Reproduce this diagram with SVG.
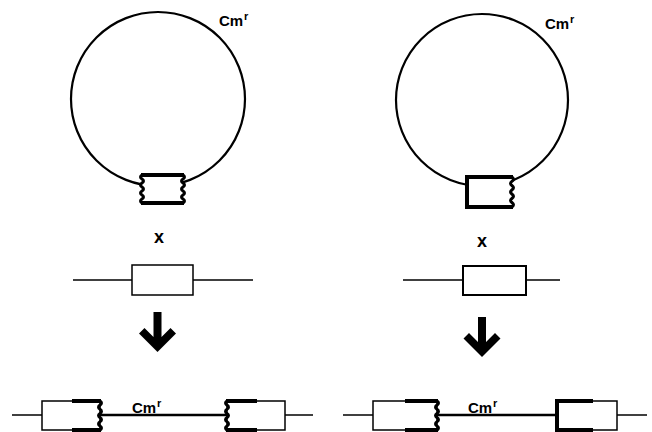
<svg xmlns="http://www.w3.org/2000/svg" width="652" height="432" viewBox="0 0 652 432">
<style>
.bg{fill:#fff}
.thin{fill:none;stroke:#000;stroke-width:1.5}
.circ{fill:none;stroke:#000;stroke-width:2.2}
.thick{fill:none;stroke:#000;stroke-width:4}
.mid{fill:none;stroke:#000;stroke-width:2.6}
.wavy{fill:none;stroke:#000;stroke-width:3;stroke-linejoin:round}
.box{fill:#fff;stroke:#000;stroke-width:1.5}
.lbl{font-family:"Liberation Sans",Arial,sans-serif;font-weight:bold;font-size:15px;fill:#000}
.xl{font-family:"Liberation Sans",Arial,sans-serif;font-weight:bold;font-size:18px;fill:#000}
.sup{font-family:"Liberation Sans",Arial,sans-serif;font-weight:bold;font-size:11px;fill:#000}
.arrow{fill:#000;stroke:none}
</style>
<defs>
<path id="wave" d="M0,0 q3,2 0,4 q-3,2 0,4 q3,2 0,4 q-3,2 0,4 q3,2 0,4 q-3,2 0,4 q3,2 0,4"/>
</defs>
<rect class="bg" x="0" y="0" width="652" height="432"/>

<g id="plasmid-left">
<circle class="circ" cx="158" cy="99" r="87"/>
<rect x="142" y="175" width="41" height="28" fill="#fff" stroke="none"/>
<line class="thick" x1="141" y1="175" x2="184" y2="175"/>
<line class="thick" x1="141" y1="203" x2="184" y2="203"/>
<use href="#wave" transform="translate(142,175) scale(-1,1)" style="fill:none;stroke:#000;stroke-width:3"/>
<use href="#wave" transform="translate(183,175)" style="fill:none;stroke:#000;stroke-width:3"/>
<text class="lbl" x="219" y="26">Cm</text><text class="sup" x="244" y="20">r</text>
</g>

<g id="plasmid-right">
<circle class="circ" cx="482" cy="100" r="86"/>
<rect x="467" y="177" width="45" height="30" fill="#fff" stroke="none"/>
<line class="thick" x1="467" y1="175" x2="467" y2="209"/>
<line class="thick" x1="465" y1="177" x2="513" y2="177"/>
<line class="thick" x1="465" y1="207" x2="513" y2="207"/>
<use href="#wave" transform="translate(512,177) scale(1,1.07)" style="fill:none;stroke:#000;stroke-width:3"/>
<text class="lbl" x="545" y="29">Cm</text><text class="sup" x="570" y="23">r</text>
</g>

<g id="x-left"><text class="xl" x="159" y="243" text-anchor="middle">x</text></g>
<g id="x-right"><text class="xl" x="482" y="247" text-anchor="middle">x</text></g>

<g id="chrom-left">
<line class="thin" x1="73" y1="280" x2="253" y2="280"/>
<rect class="box" x="132" y="265" width="61" height="30"/>
</g>
<g id="chrom-right">
<line class="thin" x1="403" y1="280" x2="560" y2="280"/>
<rect class="box" x="463" y="266" width="63" height="29" style="stroke-width:2"/>
</g>

<g id="connectors">
<path class="arrow" d="M153.5,312 h8 v25 l9,-9 l5.5,5.5 l-18.5,18.5 l-18.5,-18.5 l5.5,-5.5 l9,9 z"/>
<path class="arrow" d="M478,317 h8 v25 l9,-9 l5.5,5.5 l-18.5,18.5 l-18.5,-18.5 l5.5,-5.5 l9,9 z"/>
</g>

<g id="product-left">
<line class="thin" x1="12" y1="415" x2="42" y2="415"/>
<line class="mid" x1="100" y1="415" x2="227" y2="415"/>
<line class="thin" x1="285" y1="415" x2="313" y2="415"/>
<rect class="box" x="42" y="401" width="58" height="29"/>
<line class="thick" x1="72" y1="401" x2="101" y2="401"/>
<line class="thick" x1="72" y1="430" x2="101" y2="430"/>
<use href="#wave" transform="translate(100,401) scale(1,1.04)" style="fill:none;stroke:#000;stroke-width:3"/>
<rect class="box" x="227" y="401" width="58" height="29"/>
<line class="thick" x1="226" y1="401" x2="257" y2="401"/>
<line class="thick" x1="226" y1="430" x2="257" y2="430"/>
<use href="#wave" transform="translate(227,401) scale(-1,1.04)" style="fill:none;stroke:#000;stroke-width:3"/>
<text class="lbl" x="132" y="413">Cm</text><text class="sup" x="157" y="407">r</text>
</g>

<g id="product-right">
<line class="thin" x1="343" y1="415" x2="373" y2="415"/>
<line class="mid" x1="437" y1="415" x2="557" y2="415"/>
<line class="thin" x1="617" y1="415" x2="647" y2="415"/>
<rect class="box" x="373" y="401" width="64" height="29"/>
<line class="thick" x1="405" y1="401" x2="438" y2="401"/>
<line class="thick" x1="405" y1="430" x2="438" y2="430"/>
<use href="#wave" transform="translate(437,401) scale(1,1.04)" style="fill:none;stroke:#000;stroke-width:3"/>
<rect class="box" x="557" y="401" width="60" height="29"/>
<line class="thick" x1="557" y1="399" x2="557" y2="432"/>
<line class="thick" x1="555" y1="401" x2="593" y2="401"/>
<line class="thick" x1="555" y1="430" x2="593" y2="430"/>
<text class="lbl" x="468" y="413">Cm</text><text class="sup" x="493" y="407">r</text>
</g>
</svg>
